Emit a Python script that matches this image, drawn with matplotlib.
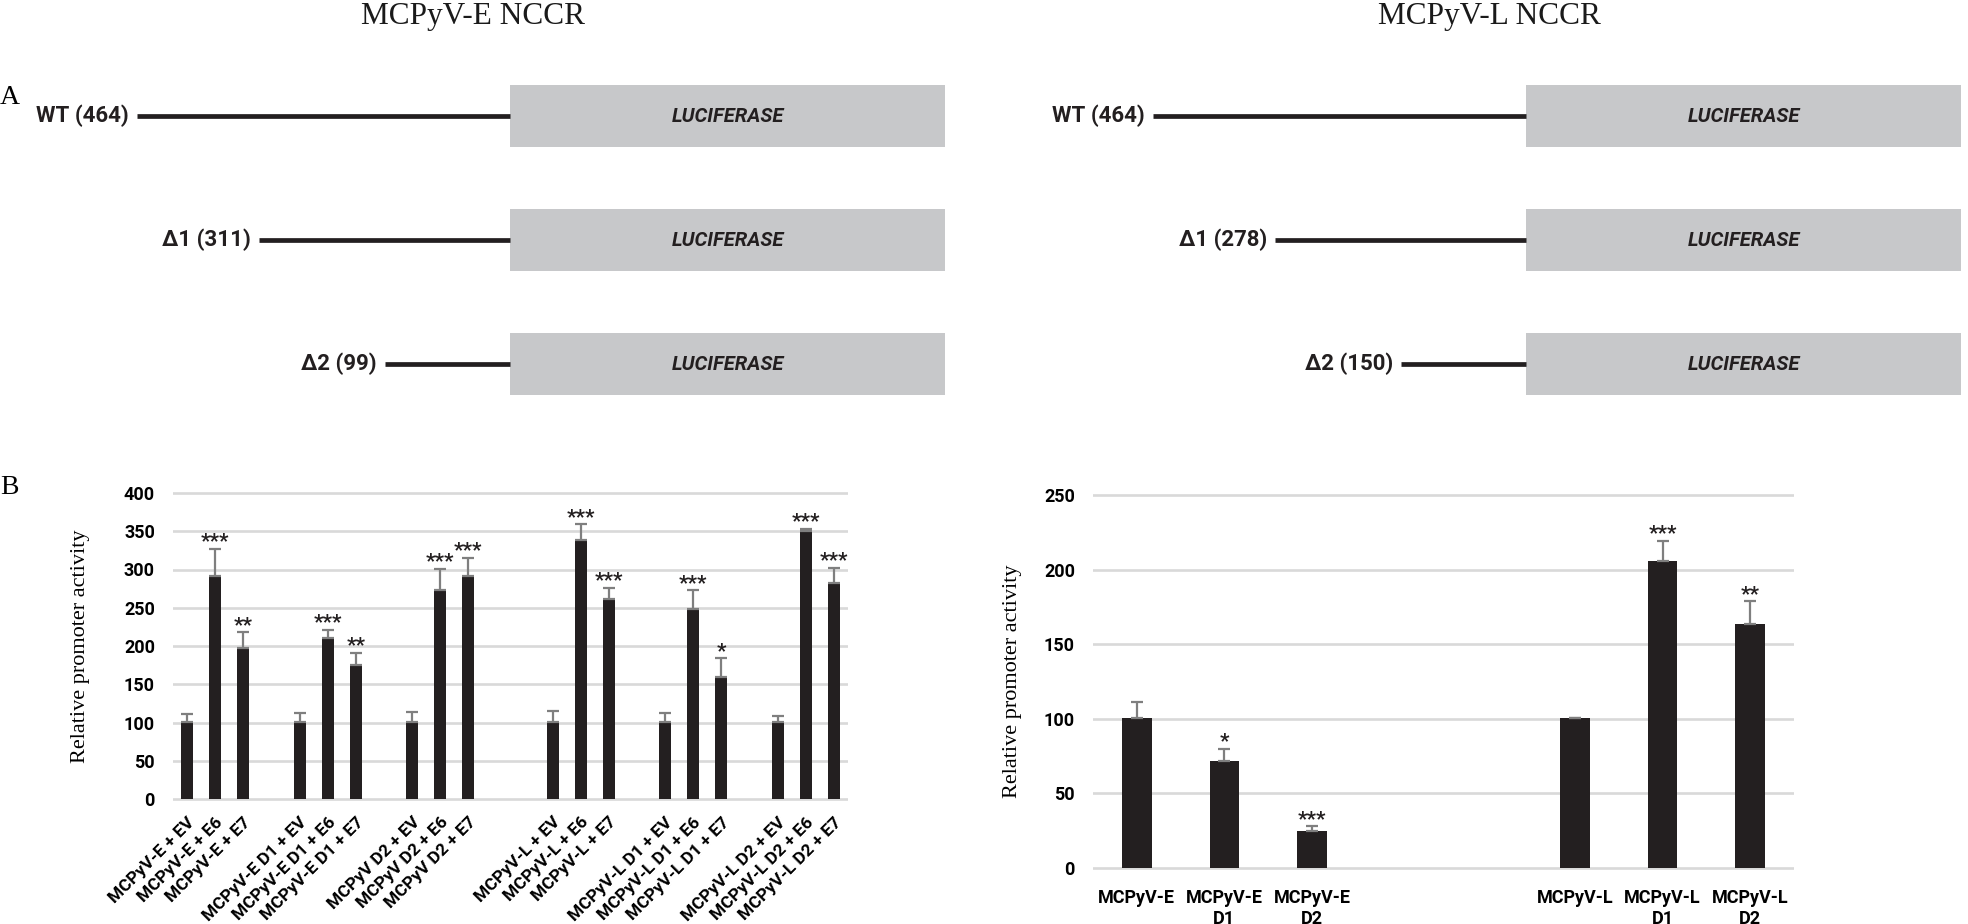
import numpy as np
import matplotlib.pyplot as plt
from matplotlib.patches import Rectangle

W, H = 1968, 924

panel_titles = ['MCPyV-E NCCR', 'MCPyV-L NCCR']
constructs_E = ['WT (464)', '\u03941 (311)', '\u03942 (99)']
constructs_L = ['WT (464)', '\u03941 (278)', '\u03942 (150)']
reporter = 'LUCIFERASE'

left_labels = ['MCPyV-E + EV', 'MCPyV-E + E6', 'MCPyV-E + E7',
               'MCPyV-E D1 + EV', 'MCPyV-E D1 + E6', 'MCPyV-E D1 + E7',
               'MCPyV D2 + EV', 'MCPyV D2 + E6', 'MCPyV D2 + E7',
               'MCPyV-L + EV', 'MCPyV-L + E6', 'MCPyV-L + E7',
               'MCPyV-L D1 + EV', 'MCPyV-L D1 + E6', 'MCPyV-L D1 + E7',
               'MCPyV-L D2 + EV', 'MCPyV-L D2 + E6', 'MCPyV-L D2 + E7']
left_values = [101, 291, 197, 101, 210, 175, 101, 273, 292,
               101, 339, 261, 101, 248, 160, 101, 350, 282]
left_errors = [10, 36, 21, 11, 11, 16, 13, 28, 23,
               14, 20, 15, 11, 25, 24, 7, 3, 20]
left_stars = ['', '***', '**', '', '***', '**', '', '***', '***',
              '', '***', '***', '', '***', '*', '', '***', '***']

right_labels = ['MCPyV-E', 'MCPyV-E\nD1', 'MCPyV-E\nD2',
                'MCPyV-L', 'MCPyV-L\nD1', 'MCPyV-L\nD2']
right_values = [100.5, 71.5, 25, 100.3, 205.5, 163.5]
right_errors = [10.5, 8.3, 3, 0.5, 14, 15.3]
right_stars = ['', '*', '***', '', '***', '**']

SANS = ['Roboto', 'DejaVu Sans']
SERIF = ['Liberation Serif', 'DejaVu Serif']
BAR = '#231f20'
GRID = '#d9d9d9'
ERR = '#7f7f7f'

plt.rcParams['font.family'] = SANS

fig = plt.figure(figsize=(W / 100, H / 100), dpi=100)

# overlay in pixel coordinates for the schematic and free text
ax0 = fig.add_axes([0, 0, 1, 1])
ax0.set_xlim(0, W)
ax0.set_ylim(H, 0)
ax0.axis('off')

row_y = [116, 240, 364]
line_len = [373, 251, 125]
box_left = [510, 1526]
box_w, box_h = 435, 62

for p, (title, constructs) in enumerate(zip(panel_titles, [constructs_E, constructs_L])):
    bx = box_left[p]
    ax0.text(bx - 37, 24, title, ha='center', va='baseline', fontsize=22.5,
             family=SERIF, color='#1a1a1a')
    for y, ln, lab in zip(row_y, line_len, constructs):
        ax0.add_patch(Rectangle((bx, y - box_h / 2), box_w, box_h,
                                facecolor='#c7c8ca', edgecolor='none'))
        ax0.plot([bx - ln, bx], [y, y], color=BAR, lw=3.4, solid_capstyle='butt')
        ax0.text(bx - ln - 8, y, lab, ha='right', va='center', fontsize=16,
                 fontweight='bold', color=BAR)
        ax0.text(bx + box_w / 2, y, reporter, ha='center', va='center',
                 fontsize=14.5, fontweight='bold', style='italic', color=BAR)

ax0.text(0, 104, 'A', ha='left', va='baseline', fontsize=20, family=SERIF)
ax0.text(0, 494, 'B', ha='left', va='baseline', fontsize=20, family=SERIF)
ax0.text(80, 646, 'Relative promoter activity', rotation=90, ha='center',
         va='center', fontsize=16, family=SERIF)
ax0.text(1013, 681, 'Relative promoter activity', rotation=90, ha='center',
         va='center', fontsize=16, family=SERIF)


def bar_panel(rect_px, xs, labels, values, errors, stars, ymax, ystep,
              width, xlim, rotate):
    x0, x1, y0, y1 = rect_px  # y0 = pixel of value 0, y1 = pixel of ymax
    upp = ymax / (y0 - y1)
    m = 3 * upp
    ax = fig.add_axes([x0 / W, 1 - (y0 + m / upp) / H,
                       (x1 - x0) / W, (y0 - y1 + 2 * m / upp) / H])
    ax.set_xlim(*xlim)
    ax.set_ylim(-m, ymax + m)
    ax.bar(xs, values, width=width, color=BAR, zorder=3)
    ax.errorbar(xs, values, yerr=[np.zeros(len(values)), errors], fmt='none',
                ecolor=ERR, elinewidth=1.6, capsize=4, capthick=1.6, zorder=4)
    for xi, v, e, s in zip(xs, values, errors, stars):
        if s:
            ax.annotate(s, (xi, v + e), xytext=(0, 1), textcoords='offset points',
                        ha='center', va='baseline', fontsize=15,
                        fontweight='bold', color=BAR)
    ax.set_yticks(np.arange(0, ymax + 1, ystep))
    ax.yaxis.grid(True, color=GRID, lw=1.9)
    ax.set_axisbelow(True)
    for s in ax.spines.values():
        s.set_visible(False)
    ax.tick_params(length=0)
    ax.tick_params(axis='y', pad=13, labelsize=13)
    for t in ax.get_yticklabels():
        t.set_fontweight('bold')
    ax.set_xticks(xs)
    if rotate:
        ax.set_xticklabels(labels, rotation=45, ha='right', va='top',
                           rotation_mode='anchor', fontsize=12.5,
                           fontweight='bold')
        ax.tick_params(axis='x', pad=9)
    else:
        ax.set_xticklabels(labels, fontsize=13, fontweight='bold')
        ax.tick_params(axis='x', pad=13)
    ax.patch.set_alpha(0)
    return ax


# left panel: groups of three with empty slots between them
gaps = [1, 1, 2, 1, 1, 0]
xs_left = []
pos = 0
for g in range(6):
    for k in range(3):
        xs_left.append(pos)
        pos += 1
    pos += gaps[g]

bar_panel((173, 848, 799, 493), xs_left, left_labels, left_values, left_errors,
          left_stars, 400, 50, 0.43, (-0.5, 23.5), True)

xs_right = [0, 1, 2, 5, 6, 7]
bar_panel((1093, 1794, 868, 495), xs_right, right_labels, right_values,
          right_errors, right_stars, 250, 50, 0.34, (-0.5, 7.5), False)

fig.savefig('out.png', dpi=100)
